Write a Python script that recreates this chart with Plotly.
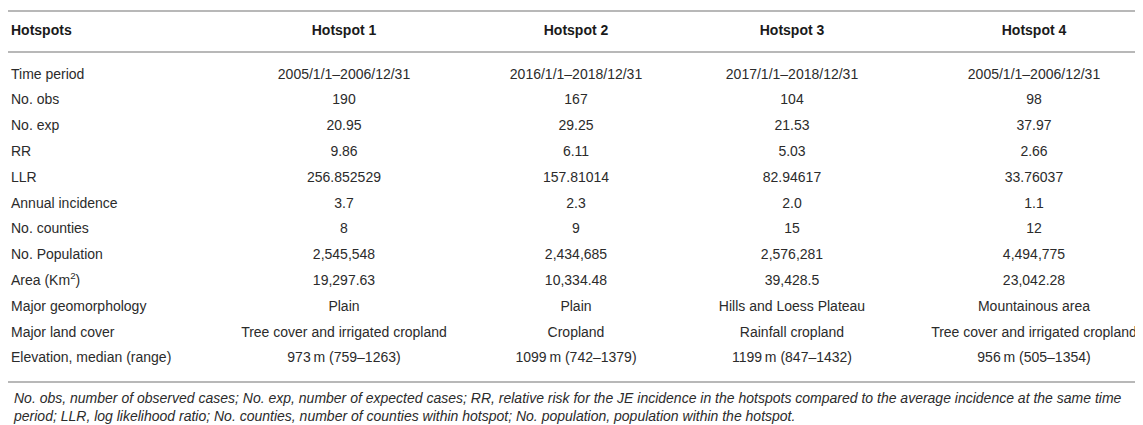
import plotly.graph_objects as go

# ---- data ----
header = ["Hotspots", "Hotspot 1", "Hotspot 2", "Hotspot 3", "Hotspot 4"]
row_labels = ["Time period", "No. obs", "No. exp", "RR", "LLR", "Annual incidence",
              "No. counties", "No. Population", "Area (Km<sup>2</sup>)",
              "Major geomorphology", "Major land cover", "Elevation, median (range)"]
hotspot1 = ["2005/1/1–2006/12/31", "190", "20.95", "9.86", "256.852529", "3.7", "8",
            "2,545,548", "19,297.63", "Plain", "Tree cover and irrigated cropland",
            "973\u2009m (759–1263)"]
hotspot2 = ["2016/1/1–2018/12/31", "167", "29.25", "6.11", "157.81014", "2.3", "9",
            "2,434,685", "10,334.48", "Plain", "Cropland", "1099\u2009m (742–1379)"]
hotspot3 = ["2017/1/1–2018/12/31", "104", "21.53", "5.03", "82.94617", "2.0", "15",
            "2,576,281", "39,428.5", "Hills and Loess Plateau", "Rainfall cropland",
            "1199\u2009m (847–1432)"]
hotspot4 = ["2005/1/1–2006/12/31", "98", "37.97", "2.66", "33.76037", "1.1", "12",
            "4,494,775", "23,042.28", "Mountainous area", "Tree cover and irrigated cropland",
            "956\u2009m (505–1354)"]
footnote = ("No. obs, number of observed cases; No. exp, number of expected cases; RR, relative risk "
            "for the JE incidence in the hotspots compared to the average incidence at the same time<br>"
            "period; LLR, log likelihood ratio; No. counties, number of counties within hotspot; "
            "No. population, population within the hotspot.")

# ---- layout constants ----
W, H = 1143, 425
col_x = [3, 336, 568, 784, 1026]
row_top_px, row_step_px = 67, 25.8
def px_to_row(p):
    return (p - row_top_px) / row_step_px

FONT = "Liberation Sans, Arial, Helvetica, sans-serif"
TXT = "#2b2b2b"
LINE = "#b8b8b8"
FS = 14

columns = [row_labels, hotspot1, hotspot2, hotspot3, hotspot4]
rows_idx = list(range(len(row_labels)))

fig = go.Figure()
for j, col in enumerate(columns):
    fig.add_trace(go.Scatter(
        x=[col_x[j]] * len(col), y=rows_idx, text=col, mode="text",
        textposition="middle right" if j == 0 else "middle center",
        textfont=dict(family=FONT, size=FS, color=TXT),
        hoverinfo="skip", showlegend=False, cliponaxis=False))

header_y = px_to_row(23)
fig.add_trace(go.Scatter(
    x=col_x, y=[header_y] * len(header), text=[f"<b>{h}</b>" for h in header], mode="text",
    textposition=["middle right"] + ["middle center"] * 4,
    textfont=dict(family=FONT, size=FS, color="#1a1a1a"),
    hoverinfo="skip", showlegend=False, cliponaxis=False))

for p in (3, 44, 374):
    fig.add_shape(type="line", xref="paper", x0=0, x1=1, yref="y",
                  y0=px_to_row(p), y1=px_to_row(p), line=dict(color=LINE, width=2))

fig.add_annotation(x=col_x[0], y=px_to_row(399), xref="x", yref="y",
                   text=f"<i>{footnote}</i>", showarrow=False, xanchor="left", yanchor="middle",
                   align="left", font=dict(family=FONT, size=14, color=TXT))

fig.update_layout(
    width=W, height=H, margin=dict(l=0, r=0, t=0, b=0),
    paper_bgcolor="white", plot_bgcolor="white",
    xaxis=dict(range=[0, W], visible=False, fixedrange=True),
    yaxis=dict(range=[px_to_row(H), px_to_row(0)], visible=False, fixedrange=True),
)
fig.write_html("out.html")
